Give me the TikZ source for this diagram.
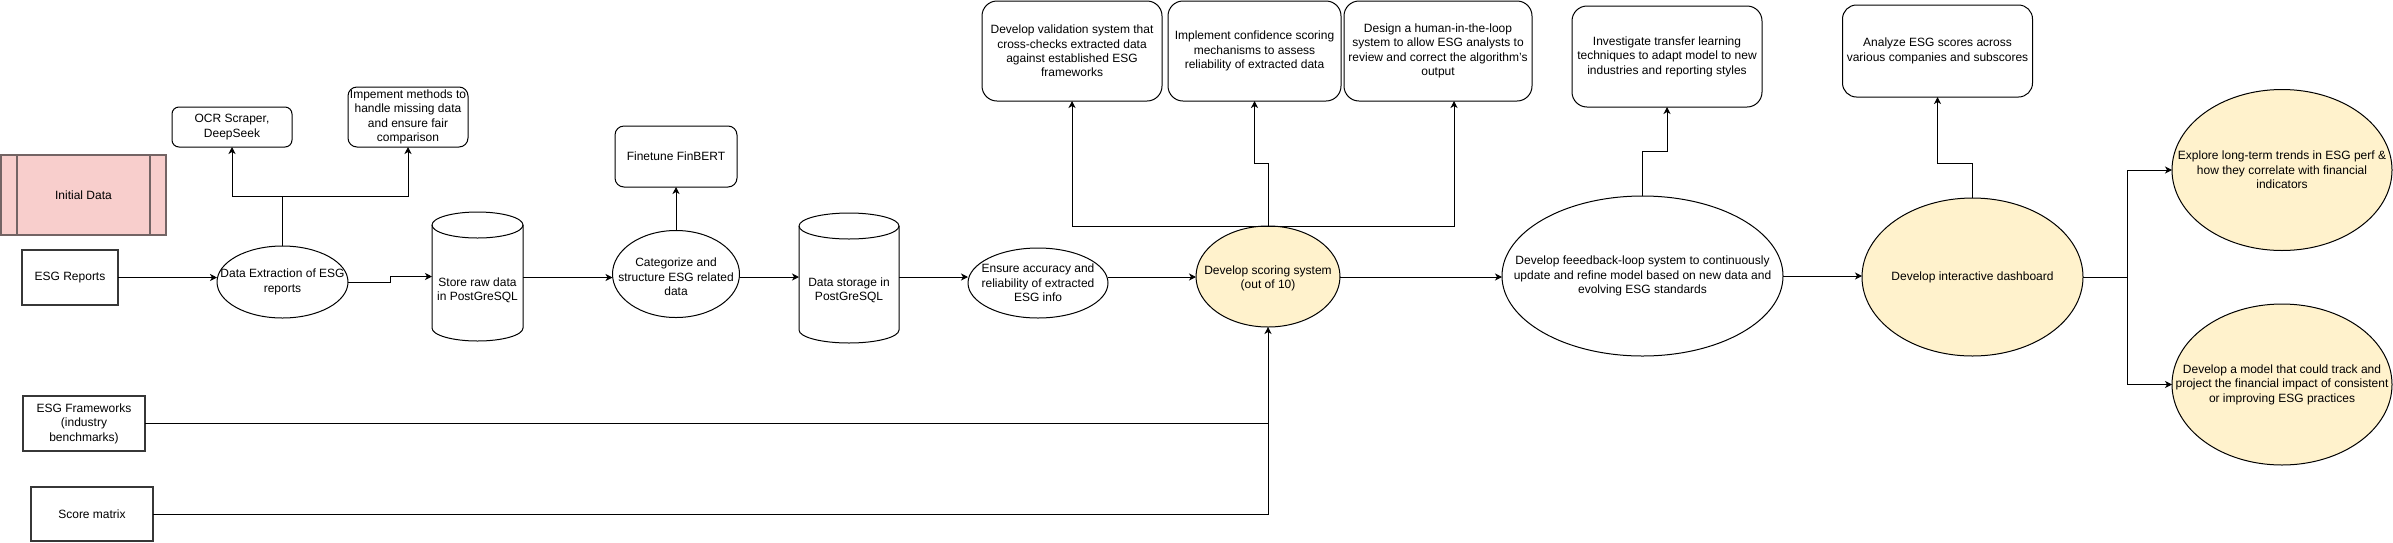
\documentclass[tikz,border=0pt]{standalone}
\usepackage{fontspec}
\setmainfont{Liberation Sans}
\usetikzlibrary{arrows.meta,shapes.geometric}
\definecolor{pinkfill}{HTML}{F8CECC}
\definecolor{pinkline}{RGB}{115,100,100}
\definecolor{yelfill}{HTML}{FFF2CC}
\definecolor{thickline}{RGB}{55,55,55}
\begin{document}
\begin{tikzpicture}[x=1pt,y=-1pt,
  every node/.style={font=\fontsize{12pt}{14.4pt}\selectfont, align=center, inner sep=0pt, outer sep=0pt},
  lbl/.style={font=\fontsize{12pt}{14.4pt}\selectfont, align=center, inner sep=0pt},
  rbox/.style={draw, line width=1pt, rectangle},
  tbox/.style={draw=thickline, line width=2pt, rectangle, fill=white},
  ell/.style={draw, line width=1pt, ellipse, fill=white},
  yell/.style={draw, line width=1pt, ellipse, fill=yelfill},
  cylbox/.style={rectangle},
  cylline/.style={draw, line width=1pt, fill=white},
  conn/.style={draw, line width=1pt},
  arr/.style={draw, line width=1pt, -{Stealth[length=7pt,width=7pt,inset=2pt]}}
]
\useasboundingbox (0,0) rectangle (2393,542);

% ---- cylinders (outlines) ----
\path[cylline] (432,225) -- (432,328) arc[start angle=180,end angle=0,x radius=45.5,y radius=13] -- (523,225) arc[start angle=0,end angle=-180,x radius=45.5,y radius=13] -- cycle;
\draw[line width=1pt] (432,225) arc[start angle=180,end angle=0,x radius=45.5,y radius=13];
\path[cylline] (799,226) -- (799,330) arc[start angle=180,end angle=0,x radius=50,y radius=13] -- (899,226) arc[start angle=0,end angle=-180,x radius=50,y radius=13] -- cycle;
\draw[line width=1pt] (799,226) arc[start angle=180,end angle=0,x radius=50,y radius=13];

% ---- nodes ----
\node[rectangle, draw=pinkline, line width=2pt, fill=pinkfill, minimum width=165, minimum height=80] (init) at (83.5,195) {Initial Data};
\draw[draw=pinkline, line width=2pt] ([xshift=16pt]init.north west) -- ([xshift=16pt]init.south west);
\draw[draw=pinkline, line width=2pt] ([xshift=-16pt]init.north east) -- ([xshift=-16pt]init.south east);

\node[tbox, minimum width=96, minimum height=55] (reports) at (70,277.5) {ESG Reports};
\node[tbox, minimum width=122, minimum height=55] (fw) at (84,423.5) {ESG Frameworks\\(industry\\benchmarks)};
\node[tbox, minimum width=122, minimum height=54] (sm) at (92,514) {Score matrix};

\node[rbox, rounded corners=7pt, minimum width=120, minimum height=40] (ocr) at (232,127) {OCR Scraper,\\DeepSeek};
\node[rbox, rounded corners=9pt, minimum width=120, minimum height=60] (imp) at (408,117) {Impement methods to\\handle missing data\\and ensure fair\\comparison};
\node[ell, minimum width=131, minimum height=72, label={[lbl]center:Data Extraction of ESG\\reports}] (dext) at (282.5,282) {};

\node[cylbox, minimum width=91, minimum height=129, label={[lbl, yshift=-13.5pt]center:Store raw data\\in PostGreSQL}] (cyl1) at (477.5,276.5) {};
\node[ell, minimum width=127, minimum height=87, label={[lbl, yshift=-3pt]center:Categorize and\\structure ESG related\\data}] (cat) at (676,274) {};
\node[rbox, rounded corners=9pt, minimum width=122, minimum height=61] (fin) at (676,156.5) {Finetune FinBERT};
\node[cylbox, minimum width=100, minimum height=130, label={[lbl, yshift=-12pt]center:Data storage in\\PostGreSQL}] (cyl2) at (849,278) {};

\node[ell, minimum width=140, minimum height=70, label={[lbl]center:Ensure accuracy and\\reliability of extracted\\ESG info}] (ensure) at (1038,283) {};
\node[yell, minimum width=144, minimum height=101, label={[lbl, yshift=-2pt]center:Develop scoring system\\(out of 10)}] (score) at (1268,276.5) {};

\node[rbox, rounded corners=15pt, minimum width=180, minimum height=100] (val) at (1072,51) {Develop validation system that\\cross-checks extracted data\\against established ESG\\frameworks};
\node[rbox, rounded corners=15pt, minimum width=173, minimum height=100] (conf) at (1254.5,51) {Implement confidence scoring\\mechanisms to assess\\reliability of extracted data};
\node[rbox, rounded corners=15pt, minimum width=188, minimum height=100] (human) at (1438,51) {Design a human-in-the-loop\\system to allow ESG analysts to\\review and correct the algorithm's\\output};

\node[ell, minimum width=281, minimum height=160, label={[lbl]center:Develop feeedback-loop system to continuously\\update and refine model based on new data and\\evolving ESG standards}] (feed) at (1642.5,276) {};
\node[rbox, rounded corners=15pt, minimum width=190, minimum height=101] (inv) at (1667,56.5) {Investigate transfer learning\\techniques to adapt model to new\\industries and reporting styles};

\node[yell, minimum width=221, minimum height=158, label={[lbl]center:Develop interactive dashboard}] (dash) at (1972.5,277) {};
\node[rbox, rounded corners=14pt, minimum width=190, minimum height=92] (ana) at (1937.5,51) {Analyze ESG scores across\\various companies and subscores};

\node[yell, minimum width=220, minimum height=161, label={[lbl]center:Explore long-term trends in ESG perf \&\\how they correlate with financial\\indicators}] (expl) at (2282,170) {};
\node[yell, minimum width=220, minimum height=161, label={[lbl]center:Develop a model that could track and\\project the financial impact of consistent\\or improving ESG practices}] (model) at (2282,384.5) {};

% ---- connectors ----
\draw[arr] (reports.east) -- (reports.east -| dext.west);
\draw[arr] (dext.east) -- ++(42,0) |- (cyl1.west);
\draw[arr] (dext.north) -- ++(0,-50) -| (ocr.south);
\draw[arr] (dext.north) -- ++(0,-50) -| (imp.south);
\draw[arr] ([yshift=-1pt]cyl1.east) -- ([yshift=-1pt]cyl1.east -| cat.west);
\draw[arr] (cat.north) -- (fin.south);
\draw[arr] ([yshift=-3pt]cat.east) -- ([yshift=-3pt]cat.east -| cyl2.west);
\draw[arr] ([yshift=1pt]cyl2.east) -- ([yshift=1pt]cyl2.east -| ensure.west);
\draw[arr] ([yshift=6pt]ensure.east) -- ([yshift=6pt]ensure.east -| score.west);
\draw[arr] (score.north) -| (val.south);
\draw[arr] (score.north) -| ([xshift=16pt]human.south);
\draw[arr] (score.north) -- ++(0,-63) -| (conf.south);
\draw[arr] ([yshift=-0.5pt]score.east) -- ([yshift=-0.5pt]score.east -| feed.west);
\draw[arr] (feed.north) -- ++(0,-45) -| (inv.south);
\draw[arr] (feed.east) -- (feed.east -| dash.west);
\draw[arr] (dash.north) -- ++(0,-35) -| (ana.south);
\coordinate (split) at (2127,277);
\draw[conn] (dash.east) -- (split);
\draw[arr] (split) |- (expl.west);
\draw[arr] (split) |- (model.west);
\draw[conn] (fw.east) -- (fw.east -| score.south);
\draw[arr] (sm.east) -| (score.south);
\end{tikzpicture}
\end{document}
